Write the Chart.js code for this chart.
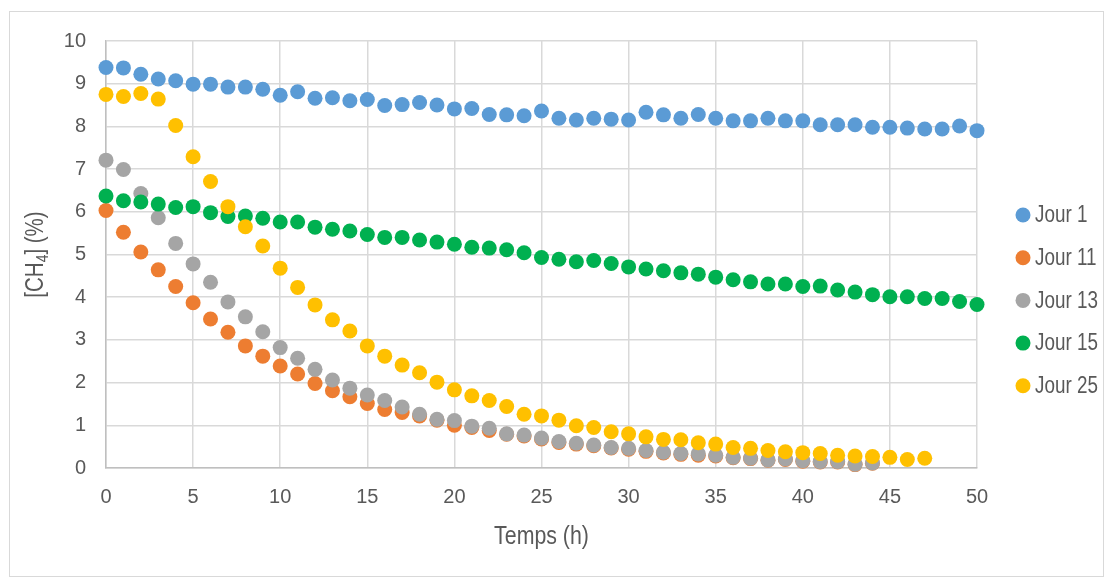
<!DOCTYPE html>
<html>
<head>
<meta charset="utf-8">
<script src="https://cdn.jsdelivr.net/npm/chart.js@4.4.0/dist/chart.umd.min.js"></script>
<style>
  html, body { margin: 0; padding: 0; background: #fff; }
  #wrap { width: 1112px; height: 582px; position: relative; }
</style>
</head>
<body>
<div id="wrap"><canvas id="chart" width="1112" height="582"></canvas></div>
<script>
// hours (x) and CH4 concentrations per sampling day
const hours = [0,1,2,3,4,5,6,7,8,9,10,11,12,13,14,15,16,17,18,19,20,21,22,23,24,25,
  26,27,28,29,30,31,32,33,34,35,36,37,38,39,40,41,42,43,44,45,46,47,48,49,50];

const jour1 = [9.38,9.37,9.22,9.11,9.07,8.99,8.99,8.92,8.92,8.87,8.73,8.81,8.66,8.67,8.60,8.63,
  8.49,8.51,8.56,8.50,8.41,8.42,8.28,8.27,8.25,8.36,8.19,8.15,8.19,8.17,8.15,8.33,8.27,8.19,8.28,
  8.19,8.13,8.13,8.19,8.13,8.13,8.04,8.04,8.04,7.98,7.98,7.96,7.94,7.94,8.01,7.90];

const jour11 = [6.03,5.52,5.06,4.64,4.25,3.87,3.49,3.18,2.86,2.62,2.39,2.20,1.98,1.81,1.67,1.51,
  1.37,1.30,1.22,1.12,1.00,0.95,0.88,0.79,0.75,0.68,0.60,0.56,0.52,0.47,0.44,0.39,0.35,0.32,0.30,
  0.28,0.24,0.22,0.18,0.20,0.16,0.14,0.14,0.08,0.11];

const jour13 = [7.21,6.99,6.43,5.86,5.26,4.78,4.35,3.89,3.54,3.19,2.82,2.57,2.31,2.06,1.87,1.71,
  1.58,1.43,1.26,1.14,1.11,0.98,0.93,0.80,0.77,0.70,0.62,0.58,0.54,0.48,0.46,0.41,0.37,0.34,0.33,
  0.30,0.25,0.23,0.19,0.21,0.17,0.15,0.15,0.09,0.12];

const jour15 = [6.37,6.26,6.23,6.18,6.10,6.12,5.98,5.89,5.90,5.85,5.76,5.76,5.64,5.59,5.55,5.47,
  5.40,5.40,5.34,5.29,5.24,5.17,5.15,5.11,5.04,4.93,4.89,4.83,4.86,4.79,4.71,4.66,4.62,4.57,4.54,
  4.47,4.41,4.36,4.31,4.31,4.25,4.26,4.17,4.12,4.06,4.01,4.01,3.97,3.97,3.90,3.83];

const jour25 = [8.75,8.70,8.77,8.64,8.02,7.29,6.71,6.12,5.65,5.20,4.68,4.23,3.82,3.47,3.21,2.86,
  2.62,2.41,2.23,2.01,1.83,1.69,1.58,1.44,1.26,1.22,1.12,0.99,0.95,0.85,0.80,0.73,0.67,0.66,0.59,
  0.56,0.48,0.46,0.41,0.38,0.36,0.34,0.30,0.28,0.27,0.25,0.20,0.23];

const seriesNames = ["Jour 1", "Jour 11", "Jour 13", "Jour 15", "Jour 25"];
const seriesValues = [jour1, jour11, jour13, jour15, jour25];
const seriesColors = ["#5B9BD5", "#ED7D31", "#A5A5A5", "#00B050", "#FFC000"];
const yTicks = [0,1,2,3,4,5,6,7,8,9,10];
const xTicks = [0,5,10,15,20,25,30,35,40,45,50];

const textColor = "#595959";
const sans = "'Liberation Sans', Arial, sans-serif";
const squeeze = 0.82; // the original uses a condensed face

const datasets = seriesValues.map((vals, i) => ({
  label: seriesNames[i],
  data: vals.map((v, j) => ({ x: hours[j], y: v })),
  backgroundColor: seriesColors[i],
  borderColor: seriesColors[i],
  pointRadius: 7.5,
  pointBorderWidth: 0,
  showLine: false,
  clip: false,
  order: seriesNames.length - i
}));

// draw text squeezed horizontally, anchored at its left edge
function narrowText(ctx, str, x, y) {
  ctx.save();
  ctx.translate(x, y);
  ctx.scale(squeeze, 1);
  ctx.fillText(str, 0, 0);
  ctx.restore();
  return ctx.measureText(str).width * squeeze;
}

// frame, y title with subscript, x title and legend
const decor = {
  id: "decor",
  beforeDraw(chart) {
    const ctx = chart.ctx;
    ctx.save();
    ctx.fillStyle = "#fff";
    ctx.fillRect(0, 0, chart.width, chart.height);
    ctx.strokeStyle = "#d9d9d9";
    ctx.lineWidth = 1;
    ctx.strokeRect(9.5, 11.5, 1094, 565);
    ctx.restore();
  },
  afterDraw(chart) {
    const ctx = chart.ctx;
    const area = chart.chartArea;
    ctx.save();
    ctx.fillStyle = textColor;
    ctx.textAlign = "left";

    // y axis title: [CH4] (%)
    const big = "25px " + sans;
    const small = "17px " + sans;
    ctx.font = big;
    const w1 = ctx.measureText("[CH").width * squeeze;
    const w3 = ctx.measureText("] (%)").width * squeeze;
    ctx.font = small;
    const w2 = ctx.measureText("4").width * squeeze;
    const total = w1 + w2 + w3;
    ctx.save();
    ctx.translate(43, (area.top + area.bottom) / 2);
    ctx.rotate(-Math.PI / 2);
    ctx.textBaseline = "alphabetic";
    let x0 = -total / 2;
    ctx.font = big;
    x0 += narrowText(ctx, "[CH", x0, 0);
    ctx.font = small;
    x0 += narrowText(ctx, "4", x0, 5);
    ctx.font = big;
    narrowText(ctx, "] (%)", x0, 0);
    ctx.restore();

    // x axis title
    ctx.font = "26px " + sans;
    ctx.textBaseline = "middle";
    const tw = ctx.measureText("Temps (h)").width * squeeze;
    narrowText(ctx, "Temps (h)", (area.left + area.right) / 2 - tw / 2, 537);

    // legend
    ctx.font = "23px " + sans;
    seriesNames.forEach((name, i) => {
      const y = 215 + i * 42.7;
      ctx.beginPath();
      ctx.fillStyle = seriesColors[i];
      ctx.arc(1023, y, 7.5, 0, Math.PI * 2);
      ctx.fill();
      ctx.fillStyle = textColor;
      narrowText(ctx, name, 1035, y + 1);
    });
    ctx.restore();
  }
};

new Chart(document.getElementById("chart"), {
  type: "scatter",
  data: { datasets },
  options: {
    responsive: false,
    animation: false,
    layout: { padding: { top: 41, right: 135, left: 0, bottom: 0 } },
    plugins: {
      legend: { display: false },
      tooltip: { enabled: false }
    },
    scales: {
      x: {
        type: "linear",
        min: 0,
        max: 50,
        afterFit(scale) { scale.height = 114; },
        afterBuildTicks(scale) { scale.ticks = xTicks.map(v => ({ value: v })); },
        grid: { color: "#d9d9d9", lineWidth: 1.5, drawTicks: false },
        border: { color: "#bfbfbf", width: 1.5 },
        ticks: {
          padding: 17,
          color: textColor,
          font: { family: sans, size: 20 }
        }
      },
      y: {
        min: 0,
        max: 10,
        afterFit(scale) { scale.width = 106; },
        afterBuildTicks(scale) { scale.ticks = yTicks.map(v => ({ value: v })); },
        grid: { color: "#d9d9d9", lineWidth: 1.5, drawTicks: false },
        border: { color: "#bfbfbf", width: 1.5 },
        ticks: {
          padding: 20,
          color: textColor,
          font: { family: sans, size: 20 }
        }
      }
    }
  },
  plugins: [decor]
});
</script>
</body>
</html>
